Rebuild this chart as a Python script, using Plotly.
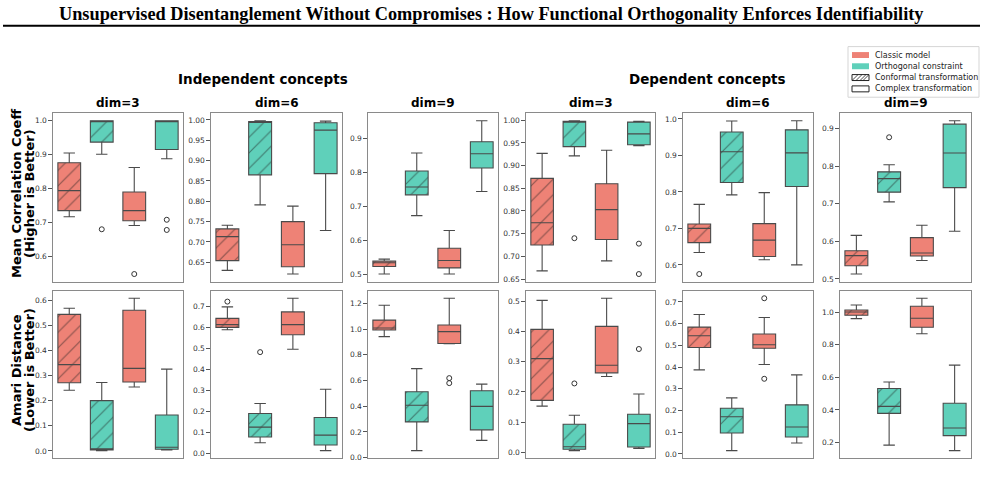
import plotly.graph_objects as go

W, H = 985, 495

TITLE = "Unsupervised Disentanglement Without Compromises : How Functional Orthogonality Enforces Identifiability"
GROUP_TITLES = ["Independent concepts", "Dependent concepts"]
PANEL_TITLES = ["dim=3", "dim=6", "dim=9", "dim=3", "dim=6", "dim=9"]
ROW_TITLES = [["Mean Correlation Coeff", "(Higher is Better)"], ["Amari Distance", "(Lower is Better)"]]
LEGEND_LABELS = ["Classic model", "Orthogonal constraint", "Conformal transformation", "Complex transformation"]

# box order in every panel: classic/conformal, orthogonal/conformal, classic/complex, orthogonal/complex
BOX_POS = [1, 2, 3, 4]
BOX_MODEL = ["classic", "orthogonal", "classic", "orthogonal"]
BOX_HATCH = [True, True, False, False]

# ---- Mean Correlation Coefficient (row 1), one list of 4 boxes per panel ----
MCC_LO = [[0.717, 0.901, 0.691, 0.888], [0.630, 0.791, 0.621, 0.728], [0.500, 0.672, 0.500, 0.743],
          [0.668, 0.9215, 0.690, 0.944], [0.634, 0.792, 0.614, 0.600], [0.513, 0.705, 0.549, 0.627]]
MCC_Q1 = [[0.735, 0.937, 0.705, 0.915], [0.654, 0.865, 0.639, 0.868], [0.522, 0.733, 0.518, 0.812],
          [0.725, 0.942, 0.737, 0.946], [0.661, 0.826, 0.623, 0.815], [0.535, 0.731, 0.561, 0.743]]
MCC_MED = [[0.794, 0.999, 0.735, 0.999], [0.713, 0.995, 0.693, 0.975], [0.533, 0.756, 0.540, 0.854],
           [0.774, 0.996, 0.803, 0.970], [0.700, 0.910, 0.668, 0.907], [0.562, 0.767, 0.569, 0.835]]
MCC_Q3 = [[0.876, 1.000, 0.790, 1.000], [0.732, 0.996, 0.750, 0.993], [0.538, 0.803, 0.576, 0.889],
          [0.872, 0.998, 0.860, 0.996], [0.712, 0.964, 0.713, 0.970], [0.575, 0.785, 0.610, 0.912]]
MCC_HI = [[0.905, 1.000, 0.862, 1.000], [0.741, 0.998, 0.788, 0.997], [0.544, 0.856, 0.628, 0.951],
          [0.927, 0.999, 0.934, 0.998], [0.766, 0.9945, 0.798, 0.995], [0.616, 0.804, 0.643, 0.921]]
MCC_OUT = [[[], [0.680], [0.548], [0.708, 0.678]], [[], [], [], []], [[], [], [], []],
           [[], [0.740], [], [0.728, 0.661]], [[0.575], [], [], []], [[], [0.877], [], []]]

# ---- Amari distance (row 2) ----
AM_LO = [[0.241, 0.001, 0.254, 0.004], [0.591, 0.052, 0.498, 0.014], [0.942, 0.054, 0.887, 0.134],
         [0.153, 0.0055, 0.251, 0.013], [0.387, 0.015, 0.412, 0.050], [0.961, 0.184, 0.868, 0.150]]
AM_Q1 = [[0.271, 0.004, 0.274, 0.0066], [0.602, 0.079, 0.567, 0.041], [0.994, 0.278, 0.889, 0.216],
         [0.172, 0.010, 0.263, 0.0175], [0.490, 0.096, 0.487, 0.078], [0.982, 0.379, 0.908, 0.242]]
AM_MED = [[0.343, 0.007, 0.328, 0.0145], [0.615, 0.126, 0.615, 0.088], [1.009, 0.407, 0.981, 0.399],
          [0.310, 0.0186, 0.288, 0.095], [0.544, 0.171, 0.503, 0.124], [1.002, 0.422, 0.963, 0.289]]
AM_Q3 = [[0.543, 0.200, 0.559, 0.143], [0.645, 0.191, 0.676, 0.172], [1.071, 0.513, 1.033, 0.521],
         [0.407, 0.093, 0.417, 0.126], [0.584, 0.210, 0.552, 0.226], [1.014, 0.532, 1.037, 0.441]]
AM_HI = [[0.567, 0.272, 0.607, 0.325], [0.700, 0.239, 0.741, 0.307], [1.187, 0.693, 1.241, 0.572],
         [0.503, 0.1225, 0.510, 0.193], [0.642, 0.258, 0.628, 0.364], [1.045, 0.572, 1.086, 0.675]]
AM_OUT = [[[], [], [], []], [[0.725], [0.484], [], []], [[], [], [0.619, 0.580], []],
          [[], [0.228], [], [0.342]], [[], [], [0.717, 0.346], []], [[], [], [], []]]

ROWS = [
    (MCC_LO, MCC_Q1, MCC_MED, MCC_Q3, MCC_HI, MCC_OUT),
    (AM_LO, AM_Q1, AM_MED, AM_Q3, AM_HI, AM_OUT),
]
Y_DTICK = [[0.1, 0.05, 0.1, 0.05, 0.1, 0.1], [0.1, 0.1, 0.2, 0.1, 0.1, 0.2]]

# ---- styling ----
RED = "#EE8276"
TEAL = "#5FD0BA"
MODEL_COLOR = {"classic": RED, "orthogonal": TEAL}
EDGE = "#4a4a4a"
FRAME = "#8a8a8a"
SANS = "DejaVu Sans"

X_PX = [(53, 183), (211, 342), (368, 498), (526, 655), (683, 813), (840, 971)]
Y_PX = [(114, 284), (293, 462)]


def px(xp):
    return xp / W


def py(yp):
    return 1 - yp / H


fig = go.Figure()
layout_axes = {}

for r, (LO, Q1, MED, Q3, HI, OUT) in enumerate(ROWS):
    for c in range(6):
        k = r * 6 + c + 1
        xa = "x" if k == 1 else f"x{k}"
        ya = "y" if k == 1 else f"y{k}"
        vals = list(LO[c]) + list(HI[c]) + [v for o in OUT[c] for v in o]
        vmin, vmax = min(vals), max(vals)
        pad = 0.05 * (vmax - vmin)
        dt = Y_DTICK[r][c]
        layout_axes["xaxis" if k == 1 else f"xaxis{k}"] = dict(
            domain=[px(X_PX[c][0]), px(X_PX[c][1])], anchor=ya, range=[0.5, 4.5],
            showticklabels=False, ticks="", showgrid=False, zeroline=False,
            showline=True, mirror=True, linecolor=FRAME, linewidth=1.2)
        layout_axes["yaxis" if k == 1 else f"yaxis{k}"] = dict(
            domain=[py(Y_PX[r][1]), py(Y_PX[r][0])], anchor=xa, range=[vmin - pad, vmax + pad],
            tick0=0, dtick=dt, tickformat=".2f" if dt < 0.1 else ".1f",
            ticks="outside", ticklen=3.5, tickwidth=1, tickcolor="#555",
            tickfont=dict(family=SANS, size=7.5, color="#333"),
            showgrid=False, zeroline=False,
            showline=True, mirror=True, linecolor=FRAME, linewidth=1.2)
        for b in range(4):
            col = MODEL_COLOR[BOX_MODEL[b]]
            fig.add_trace(go.Bar(
                x=[BOX_POS[b]], y=[Q3[c][b] - Q1[c][b]], base=[Q1[c][b]], width=0.7,
                marker=dict(color=col, line=dict(width=0),
                            pattern=dict(shape="/" if BOX_HATCH[b] else "", fgcolor="#1e1e1e",
                                         size=11, solidity=0.1, fillmode="overlay")),
                xaxis=xa, yaxis=ya, showlegend=False, hoverinfo="skip"))
            fig.add_trace(go.Box(
                x=[BOX_POS[b]], q1=[Q1[c][b]], median=[MED[c][b]], q3=[Q3[c][b]],
                lowerfence=[LO[c][b]], upperfence=[HI[c][b]], width=0.7, whiskerwidth=0.5,
                fillcolor="rgba(0,0,0,0)", line=dict(color=EDGE, width=1.1),
                boxpoints=False, xaxis=xa, yaxis=ya, showlegend=False))
            if OUT[c][b]:
                fig.add_trace(go.Scatter(
                    x=[BOX_POS[b]] * len(OUT[c][b]), y=OUT[c][b], mode="markers",
                    marker=dict(symbol="circle-open", size=5, color="#333", line=dict(width=1)),
                    xaxis=xa, yaxis=ya, showlegend=False))

annotations = []
shapes = []

# main title + rule
annotations.append(dict(text=f"<b>{TITLE}</b>", x=px(491.5), y=py(14), xref="paper", yref="paper",
                        showarrow=False, xanchor="center", yanchor="middle",
                        font=dict(family="Liberation Serif", size=18.3, color="black")))
shapes.append(dict(type="line", xref="paper", yref="paper", x0=px(3), x1=px(980), y0=py(26), y1=py(26),
                   line=dict(color="black", width=2)))

# group titles
for t, cx in zip(GROUP_TITLES, [263, 707]):
    annotations.append(dict(text=f"<b>{t}</b>", x=px(cx), y=py(80), xref="paper", yref="paper",
                            showarrow=False, xanchor="center", yanchor="middle",
                            font=dict(family=SANS, size=13.5, color="black")))
# panel titles
for t, (x0, x1) in zip(PANEL_TITLES, X_PX):
    annotations.append(dict(text=f"<b>{t}</b>", x=px((x0 + x1) / 2), y=py(104), xref="paper", yref="paper",
                            showarrow=False, xanchor="center", yanchor="middle",
                            font=dict(family=SANS, size=12, color="black")))
# row titles (two lines, rotated)
for lines, (y0, y1) in zip(ROW_TITLES, Y_PX):
    for t, lx in zip(lines, [16.5, 29.5]):
        annotations.append(dict(text=f"<b>{t}</b>", x=px(lx), y=py((y0 + y1) / 2 - 4), xref="paper",
                                yref="paper", showarrow=False, xanchor="center", yanchor="middle",
                                textangle=-90, font=dict(family=SANS, size=13, color="black")))

# legend (drawn manually to match compact matplotlib legend)
shapes.append(dict(type="rect", xref="paper", yref="paper", x0=px(848), x1=px(979), y0=py(47), y1=py(98),
                   line=dict(color="#d5d5d5", width=1), fillcolor="white"))
row_y = [55.5, 66.8, 78.2, 89.6]
sx0, sx1 = 852, 869
for i, (lab, yy) in enumerate(zip(LEGEND_LABELS, row_y)):
    if i < 2:
        fc = RED if i == 0 else TEAL
        shapes.append(dict(type="rect", xref="paper", yref="paper", x0=px(sx0), x1=px(sx1),
                           y0=py(yy - 3), y1=py(yy + 3), line=dict(width=0), fillcolor=fc))
    else:
        shapes.append(dict(type="rect", xref="paper", yref="paper", x0=px(sx0), x1=px(sx1),
                           y0=py(yy - 3), y1=py(yy + 3), line=dict(color="#222", width=1), fillcolor="white"))
        if i == 2:
            path = ""
            for off in [0, 4, 8, 11]:
                path += f"M {px(sx0 + off)},{py(yy + 3)} L {px(sx0 + off + 6)},{py(yy - 3)} "
            shapes.append(dict(type="path", xref="paper", yref="paper", path=path,
                               line=dict(color="#222", width=0.8)))
    annotations.append(dict(text=lab, x=px(873), y=py(yy), xref="paper", yref="paper", showarrow=False,
                            xanchor="left", yanchor="middle", font=dict(family=SANS, size=8, color="#222")))

fig.update_layout(
    width=W, height=H, margin=dict(l=0, r=0, t=0, b=0),
    paper_bgcolor="white", plot_bgcolor="white",
    barmode="overlay", boxmode="overlay", showlegend=False,
    font=dict(family=SANS),
    annotations=annotations, shapes=shapes,
    **layout_axes,
)

fig.write_html("out.html")
